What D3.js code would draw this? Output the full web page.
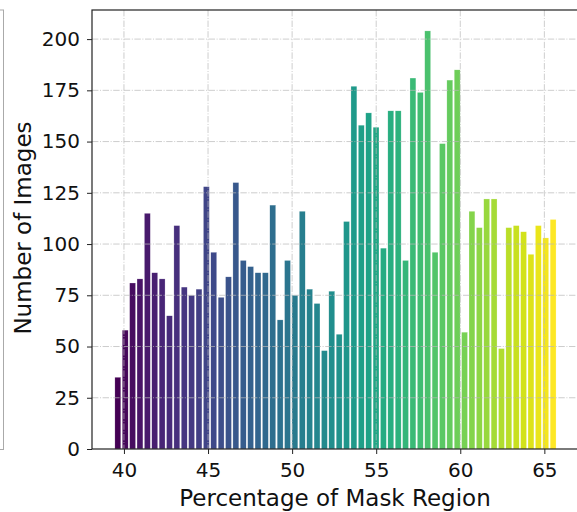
<!DOCTYPE html>
<html>
<head>
<meta charset="utf-8">
<script src="https://cdn.jsdelivr.net/npm/d3@7"></script>
<style>
  body { margin: 0; background: #fff; }
  svg { display: block; font-family: "DejaVu Sans", sans-serif; }
</style>
</head>
<body>
<div class="canva"></div>
<script>
// histogram counts, one per bin
const counts = [35, 58, 81, 83, 115, 86, 83, 65, 109, 79,
  75, 78, 128, 96, 74, 84, 130, 92, 89, 86,
  86, 119, 63, 92, 75, 116, 78, 71, 48, 77,
  56, 111, 177, 158, 164, 157, 98, 165, 165, 92,
  181, 174, 204, 96, 149, 180, 185, 57, 116, 108,
  122, 122, 49, 108, 109, 106, 95, 109, 103, 112];
const binStart = 39.417;
const binWidth = 0.4387;
const xTicks = [40, 45, 50, 55, 60, 65];
const yTicks = [0, 25, 50, 75, 100, 125, 150, 175, 200];

const W = 577, H = 512;
const mLeft = 92, mRight = 579, mTop = 10, mBottom = 449;

const svg = d3.select(".canva").append("svg")
  .attr("width", W)
  .attr("height", H);

const x = d3.scaleLinear().domain([38.1, 67.06]).range([mLeft, mRight]);
const y = d3.scaleLinear().domain([0, 214.2]).range([mBottom, mTop]);

// remnant of the neighbouring panel on the left
svg.append("rect")
  .attr("x", -10).attr("y", 10)
  .attr("width", 13.5).attr("height", 439.5)
  .attr("fill", "none")
  .attr("stroke", "#aaaaaa")
  .attr("stroke-width", 1);

const bins = counts.map((c, i) => ({ x0: binStart + i * binWidth, x1: binStart + (i + 1) * binWidth, c: c, i: i }));

svg.append("g").selectAll("rect")
  .data(bins)
  .join("rect")
  .attr("x", d => x(d.x0 + binWidth * 0.1))
  .attr("width", d => x(d.x0 + binWidth * 0.9) - x(d.x0 + binWidth * 0.1))
  .attr("y", d => y(d.c))
  .attr("height", d => y(0) - y(d.c))
  .attr("fill", d => d3.interpolateViridis(d.i / (counts.length - 1)))
  .attr("stroke", "#ffffff")
  .attr("stroke-width", 0.4)
  .attr("stroke-opacity", 0.6);

// grid (dash-dot), drawn over the bars
const grid = svg.append("g")
  .attr("stroke", "#b8b8b8")
  .attr("stroke-opacity", 0.7)
  .attr("stroke-width", 1)
  .attr("stroke-dasharray", "6.4,1.6,1,1.6");

grid.selectAll(".gx").data(xTicks).join("line")
  .attr("x1", d => x(d)).attr("x2", d => x(d))
  .attr("y1", mTop).attr("y2", mBottom);

grid.selectAll(".gy").data(yTicks.filter(d => d > 0)).join("line")
  .attr("x1", mLeft).attr("x2", mRight)
  .attr("y1", d => y(d)).attr("y2", d => y(d));

// axes
const xAxis = svg.append("g")
  .attr("transform", `translate(0,${mBottom})`)
  .call(d3.axisBottom(x).tickValues(xTicks).tickSize(5).tickPadding(8.5).tickSizeOuter(0));

const yAxis = svg.append("g")
  .attr("transform", `translate(${mLeft},0)`)
  .call(d3.axisLeft(y).tickValues(yTicks).tickSize(5).tickPadding(7).tickSizeOuter(0));

[xAxis, yAxis].forEach(a => {
  a.select(".domain").remove();
  a.selectAll("line").attr("stroke", "#222");
  a.selectAll("text")
    .attr("fill", "#111")
    .attr("font-size", 20)
    .attr("font-family", "DejaVu Sans, sans-serif");
});

// spines
svg.append("rect")
  .attr("x", mLeft).attr("y", mTop)
  .attr("width", mRight - mLeft).attr("height", mBottom - mTop)
  .attr("fill", "none")
  .attr("stroke", "#222")
  .attr("stroke-width", 1.2);

svg.append("text")
  .text("Percentage of Mask Region")
  .attr("x", 335)
  .attr("y", 506)
  .attr("text-anchor", "middle")
  .attr("font-size", 23)
  .attr("fill", "#111");

svg.append("text")
  .text("Number of Images")
  .attr("transform", "translate(31,228) rotate(-90)")
  .attr("text-anchor", "middle")
  .attr("font-size", 23)
  .attr("fill", "#111");
</script>
</body>
</html>
